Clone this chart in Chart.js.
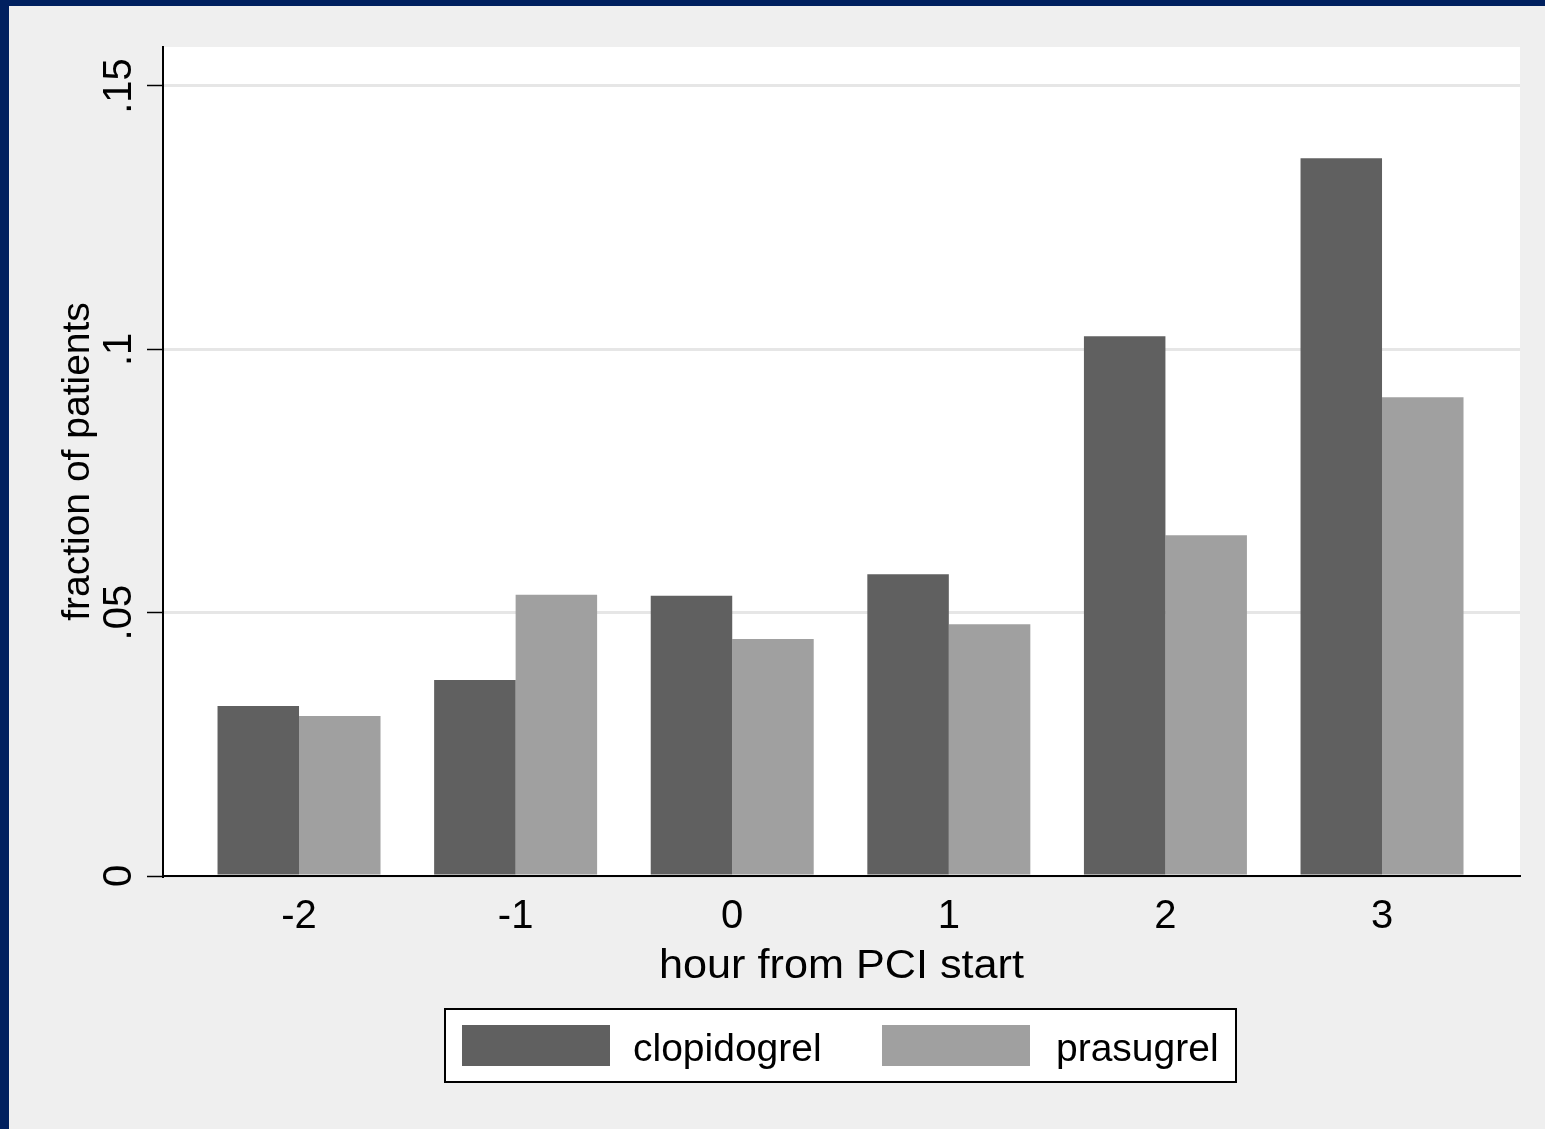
<!DOCTYPE html>
<html>
<head>
<meta charset="utf-8">
<script src="https://cdn.jsdelivr.net/npm/chart.js@4.4.0/dist/chart.umd.min.js"></script>
<style>
  html, body { margin: 0; padding: 0; background: #00205f; }
  #wrap { position: absolute; left: 9px; top: 6px; width: 1536px; height: 1123px; background: #efefef; }
  canvas { display: block; }
</style>
</head>
<body>
<div id="wrap"><canvas id="myChart" width="1536" height="1123"></canvas></div>
<script>
// data
var hours = [-2, -1, 0, 1, 2, 3];
var hourLabels = ['-2', '-1', '0', '1', '2', '3'];
var clopidogrel = [0.0323, 0.0372, 0.0532, 0.0573, 0.1025, 0.1363];
var prasugrel = [0.0304, 0.0534, 0.0450, 0.0478, 0.0647, 0.0909];
var yTicks = [0, 0.05, 0.1, 0.15];
var yTickLabels = ['0', '.05', '.1', '.15'];
var seriesNames = ['clopidogrel', 'prasugrel'];
var barColors = ['#606060', '#a0a0a0'];

var FONT = '40px "Liberation Sans", Arial, sans-serif';
var LEGEND_FONT = '39px "Liberation Sans", Arial, sans-serif';

function points(vals) {
    return hours.map(function (h, i) { return { x: h, y: vals[i] }; });
}

// draws a centred label stretched a bit wider, like the stata export
function wideText(c, txt, x, y, w) {
    var m = c.measureText(txt).width;
    c.save();
    c.translate(x, y);
    c.scale(w / m, 1);
    c.textAlign = 'center';
    c.fillText(txt, 0, 0);
    c.restore();
}

var stataText = {
    id: 'stataText',
    beforeDraw: function (chart) {
        var a = chart.chartArea, c = chart.ctx;
        c.save();
        c.fillStyle = '#ffffff';
        c.fillRect(a.left, a.top, a.right - a.left, a.bottom - a.top);
        c.restore();
    },
    afterDraw: function (chart) {
        var c = chart.ctx, a = chart.chartArea;
        var xs = chart.scales.x, ys = chart.scales.y;
        var mid = (a.left + a.right) / 2;
        c.save();
        c.fillStyle = '#000';
        c.font = FONT;
        c.textAlign = 'center';
        c.textBaseline = 'alphabetic';
        // x tick labels
        hours.forEach(function (h, i) {
            c.fillText(hourLabels[i], xs.getPixelForValue(h), 922);
        });
        wideText(c, 'hour from PCI start', mid, 972, 365);
        // y tick labels, rotated
        yTicks.forEach(function (v, i) {
            c.save();
            c.translate(122, ys.getPixelForValue(v));
            c.rotate(-Math.PI / 2);
            c.fillText(yTickLabels[i], 0, 0);
            c.restore();
        });
        c.save();
        c.translate(80, (a.top + a.bottom) / 2);
        c.rotate(-Math.PI / 2);
        c.font = LEGEND_FONT;
        c.fillText('fraction of patients', 0, 0);
        c.restore();
        // legend box
        c.fillStyle = '#fff';
        c.fillRect(436, 1003, 791, 73);
        c.strokeStyle = '#000';
        c.lineWidth = 2;
        c.strokeRect(436, 1003, 791, 73);
        c.font = LEGEND_FONT;
        var sw = [453, 873], tx = [624, 1047];
        chart.data.datasets.forEach(function (ds, i) {
            c.fillStyle = ds.backgroundColor;
            c.fillRect(sw[i], 1019, 148, 41);
            c.fillStyle = '#000';
            c.textAlign = 'left';
            c.fillText(ds.label, tx[i], 1055);
        });
        c.restore();
    }
};

var ctx = document.getElementById('myChart').getContext('2d');
var chart = new Chart(ctx, {
    type: 'bar',
    data: {
        datasets: [{
            label: seriesNames[0],
            data: points(clopidogrel),
            backgroundColor: barColors[0],
            borderWidth: 0
        }, {
            label: seriesNames[1],
            data: points(prasugrel),
            backgroundColor: barColors[1],
            borderWidth: 0
        }]
    },
    options: {
        responsive: false,
        animation: false,
        devicePixelRatio: 1,
        categoryPercentage: 0.7525,
        barPercentage: 1,
        layout: { padding: { left: 138, right: 25, top: 41, bottom: 253 } },
        plugins: { legend: { display: false }, tooltip: { enabled: false } },
        scales: {
            x: {
                type: 'linear',
                offset: false,
                min: -2.628,
                max: 3.637,
                afterBuildTicks: function (s) { s.ticks = hours.map(function (h) { return { value: h }; }); },
                afterFit: function (s) { s.height = 0; },
                ticks: { display: false },
                grid: { display: false },
                border: { display: true, color: '#000', width: 2 }
            },
            y: {
                min: 0,
                max: 0.1574,
                afterBuildTicks: function (s) { s.ticks = yTicks.map(function (v) { return { value: v }; }); },
                afterFit: function (s) { s.width = 16; },
                ticks: { display: false },
                grid: {
                    color: '#e6e6e6',
                    lineWidth: 3,
                    drawTicks: true,
                    tickLength: 16,
                    tickColor: '#000',
                    tickWidth: 1.5
                },
                border: { display: true, color: '#000', width: 2 }
            }
        }
    },
    plugins: [stataText]
});
</script>
</body>
</html>
